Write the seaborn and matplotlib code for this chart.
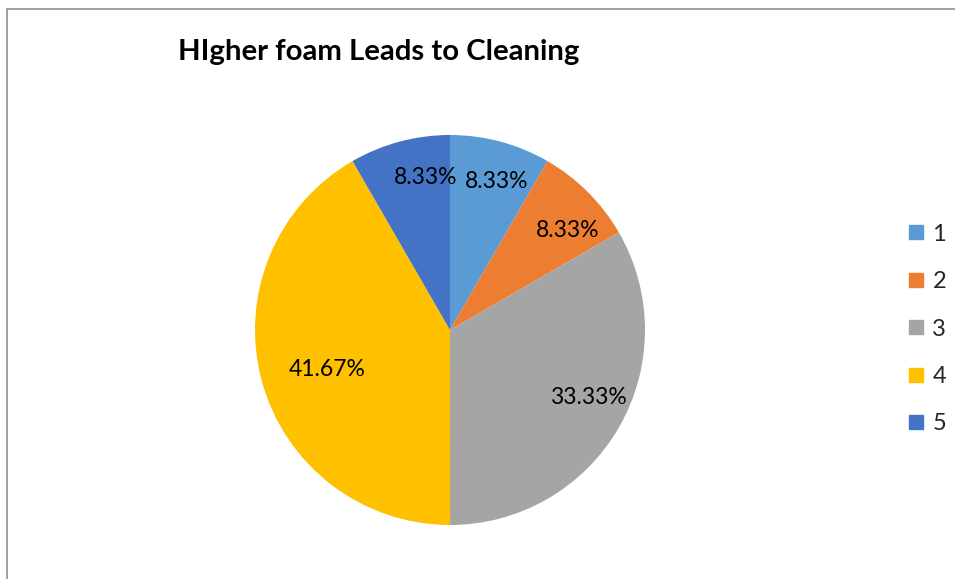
import matplotlib
matplotlib.use("Agg")
import matplotlib.pyplot as plt
import seaborn as sns
import numpy as np
from matplotlib.lines import Line2D

sns.set_theme(style="white")
plt.rcParams['font.family'] = ['Lato', 'DejaVu Sans']

categories = ["1", "2", "3", "4", "5"]
values = [8.33, 8.33, 33.33, 41.67, 8.33]
colors = ["#5B9BD5", "#ED7D31", "#A5A5A5", "#FFC000", "#4472C4"]
title = "HIgher foam Leads to Cleaning"

W, H = 955, 579
fig = plt.figure(figsize=(W / 100, H / 100), dpi=100)
fig.patch.set_facecolor("white")

cx, cy, r = 450, 330, 195
ax = fig.add_axes([(cx - r) / W, (H - cy - r) / H, 2 * r / W, 2 * r / H])

wedges, texts, autotexts = ax.pie(
    values, colors=colors, startangle=90, counterclock=False,
    autopct=lambda p: f"{p:.2f}%", pctdistance=0.79,
    wedgeprops=dict(linewidth=0),
    textprops=dict(fontsize=16.5, color="black"))
ax.set_xlim(-1, 1)
ax.set_ylim(-1, 1)

# Per-label radial distance and angular nudge (degrees) like the Excel layout
dist = [0.80, 0.79, 0.79, 0.66, 0.79]
nudge = [-2.5, -5, 4, 3, -6]
for w, t, d, n in zip(wedges, autotexts, dist, nudge):
    ang = np.deg2rad((w.theta1 + w.theta2) / 2 + n)
    t.set_position((d * np.cos(ang), d * np.sin(ang)))

fig.text(178 / W, 1 - 52 / H, title, fontsize=21.2, fontweight="bold",
         ha="left", va="center", color="black")

handles = [Line2D([0], [0], marker="s", linestyle="none", markersize=10,
                  markerfacecolor=c, markeredgecolor=c) for c in colors]
fig.legend(handles, categories, loc="center left",
           bbox_to_anchor=(897 / W, 1 - 329 / H), frameon=False,
           fontsize=17, labelspacing=1.12, handlelength=0.8,
           handletextpad=0.3, borderaxespad=0)

# Frame lines (top and left) of the chart area
fig.add_artist(Line2D([7 / W, 1], [1 - 9 / H, 1 - 9 / H], color="#9a9a9a",
                      linewidth=1.3, transform=fig.transFigure))
fig.add_artist(Line2D([7 / W, 7 / W], [0, 1 - 9 / H], color="#9a9a9a",
                      linewidth=1.3, transform=fig.transFigure))

fig.savefig("out.png", dpi=100, facecolor="white")
